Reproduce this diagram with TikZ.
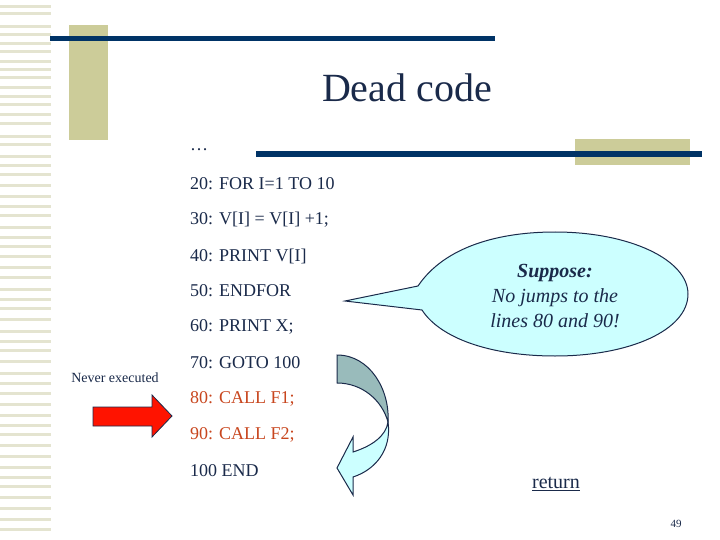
\documentclass[tikz,border=0pt]{standalone}
\usepackage{fontspec}
\setmainfont{Liberation Serif}
\usetikzlibrary{calc}
\definecolor{navy}{HTML}{003366}
\definecolor{txt}{HTML}{1A2A4A}
\definecolor{beige}{HTML}{CCCC99}
\definecolor{stripe}{HTML}{E4E4D0}
\definecolor{redc}{HTML}{C8461E}
\definecolor{cyanl}{HTML}{CCFFFF}
\definecolor{tealg}{HTML}{99BBBB}
\tikzset{codeline/.style={anchor=west,text=txt,font=\fontsize{18}{20}\selectfont,inner sep=0pt},
  redline/.style={codeline,text=redc}}
\begin{document}
\begin{tikzpicture}[x=1pt,y=-1pt]
\useasboundingbox (0,0) rectangle (720,540);
\fill[white] (0,0) rectangle (720,540);
% left stripes
\foreach \yy in {5,12,25,33,42,50,60,68,76,86,95,103,113,122,135,143,155,164,173,184,195,205,214,226,236,245,255,266,276,288,298,307,318,330,340,349,360,372,382,392,403,414,424,433,444,455,466,476,485,496,507,518,528}
  \fill[stripe] (0,\yy) rectangle (51,\yy+3);
% decorations
\fill[beige] (69,25) rectangle (108,140);
\fill[navy] (50,36) rectangle (495,41);
\fill[beige] (575,139) rectangle (690,165);
\fill[navy] (256,151) rectangle (702,157);
% title
\node[text=txt,font=\fontsize{40}{44}\selectfont,inner sep=0pt] (title) at (407,88) {Dead code};
% code
\node[codeline] (l0) at (190,150) {\ldots};
\node[codeline] (l1) at (190,184) {20: FOR I=1 TO 10};
\node[codeline] (l2) at (190,220) {30: V[I] = V[I] +1;};
\node[codeline] (l3) at (190,256) {40: PRINT V[I]};
\node[codeline] (l4) at (190,291) {50: ENDFOR};
\node[codeline] (l5) at (190,327) {60: PRINT X;};
\node[codeline] (l6) at (190,363) {70: GOTO 100};
\node[redline] (l7) at (190,399) {80: CALL F1;};
\node[redline] (l8) at (190,435) {90: CALL F2;};
\node[codeline] (l9) at (190,471) {100 END};
% never executed
\node[text=txt,font=\fontsize{14}{16}\selectfont,inner sep=0pt] (never) at (115,378) {Never executed};
\filldraw[fill=red!85!orange,draw=txt,line width=0.8pt]
  (93,407) -- (152,407) -- (152,395) -- (172,416) -- (152,437) -- (152,426) -- (93,426) -- cycle;
% curved arrow
\filldraw[fill=cyanl,draw=txt,line width=1pt]
  (388,422) .. controls (392,450) and (375,470) .. (353,477) -- (353,495) -- (337,468) -- (353,437) -- (353,452)
  .. controls (372,446) and (386,436) .. (388,422) -- cycle;
\filldraw[fill=tealg,draw=txt,line width=1pt]
  (337,355) .. controls (370,355) and (390,390) .. (388,422)
  .. controls (382,400) and (362,383) .. (337,383) -- cycle;
% callout
\filldraw[fill=cyanl,draw=txt,line width=1pt]
  (418,286) .. controls (445,246) and (500,232) .. (555,232)
  .. controls (630,232) and (688,260) .. (688,294)
  .. controls (688,330) and (630,356) .. (555,356)
  .. controls (490,356) and (440,338) .. (422,310) -- (345,301) -- cycle;
\node[text=txt,align=center,font=\fontsize{20}{25}\selectfont\itshape,inner sep=0pt] (sup) at (555,296)
  {\textbf{Suppose:}\\No jumps to the\\lines 80 and 90!};
% return
\node[text=txt,font=\fontsize{20}{22}\selectfont,inner sep=0pt] (ret) at (556,484) {\underline{return}};
\node[text=txt,font=\fontsize{11}{12}\selectfont,inner sep=0pt] (pg) at (676,524) {49};
\end{tikzpicture}
\end{document}
